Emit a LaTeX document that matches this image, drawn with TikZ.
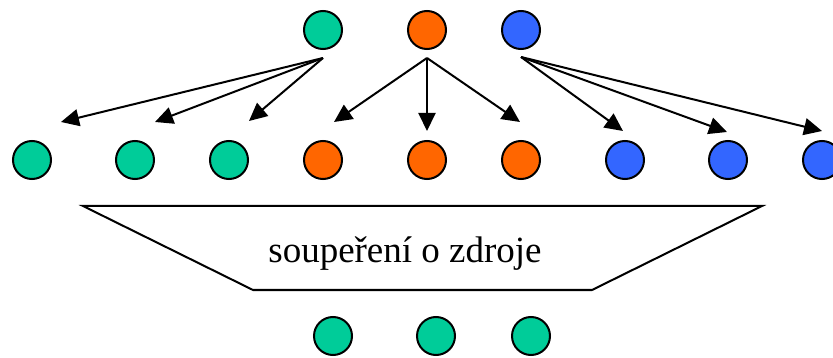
\documentclass[tikz,border=0pt]{standalone}
\usepackage{fontspec}
\setmainfont{Liberation Serif}
\usetikzlibrary{arrows.meta}
\definecolor{cgreen}{HTML}{00CC99}
\definecolor{corange}{HTML}{FF6600}
\definecolor{cblue}{HTML}{3366FF}
\tikzset{
  dot/.style={circle, draw=black, line width=2pt, minimum size=38pt, inner sep=0pt},
  gdot/.style={dot, fill=cgreen},
  odot/.style={dot, fill=corange},
  bdot/.style={dot, fill=cblue},
  arr/.style={line width=2pt, -{Triangle[length=18pt,width=17pt]}},
  trap/.style={line width=2pt, line join=miter}
}
\begin{document}
\begin{tikzpicture}[x=1pt,y=-1pt]
\useasboundingbox (0,0) rectangle (833,358);
\clip (0,0) rectangle (833,358);
% top row
\node[gdot] (tg) at (323,30) {};
\node[odot] (to) at (427,30) {};
\node[bdot] (tb) at (521,30) {};
% middle row
\node[gdot] (m1) at (32,160) {};
\node[gdot] (m2) at (135,160) {};
\node[gdot] (m3) at (229,160) {};
\node[odot] (m4) at (323,160) {};
\node[odot] (m5) at (427,160) {};
\node[odot] (m6) at (521,160) {};
\node[bdot] (m7) at (625,160) {};
\node[bdot] (m8) at (728,160) {};
\node[bdot] (m9) at (822,160) {};
% bottom row
\node[gdot] (b1) at (333,336) {};
\node[gdot] (b2) at (436,336) {};
\node[gdot] (b3) at (531,336) {};
% arrow sources
\coordinate (sg) at (323,58);
\coordinate (so) at (427,58);
\coordinate (sb) at (521,57);
% arrow tips
\coordinate (e1) at (61,122);
\coordinate (e2) at (155,122);
\coordinate (e3) at (249,121);
\coordinate (e4) at (334,122);
\coordinate (e5) at (427,131);
\coordinate (e6) at (520,122);
\coordinate (e7) at (623,131);
\coordinate (e8) at (727,132);
\coordinate (e9) at (822,131);
\draw[arr] (sg) -- (e1);
\draw[arr] (sg) -- (e2);
\draw[arr] (sg) -- (e3);
\draw[arr] (so) -- (e4);
\draw[arr] (so) -- (e5);
\draw[arr] (so) -- (e6);
\draw[arr] (sb) -- (e7);
\draw[arr] (sb) -- (e8);
\draw[arr] (sb) -- (e9);
% trapezoid
\coordinate (t1) at (83,206);
\coordinate (t2) at (762,206);
\coordinate (t3) at (592,290);
\coordinate (t4) at (253,290);
\draw[trap] (t1) -- (t2) -- (t3) -- (t4) -- cycle;
\node[inner sep=0pt, anchor=base, font=\fontsize{37}{42}\selectfont] (lbl) at (405,263) {soupeření o zdroje};
\end{tikzpicture}
\end{document}
